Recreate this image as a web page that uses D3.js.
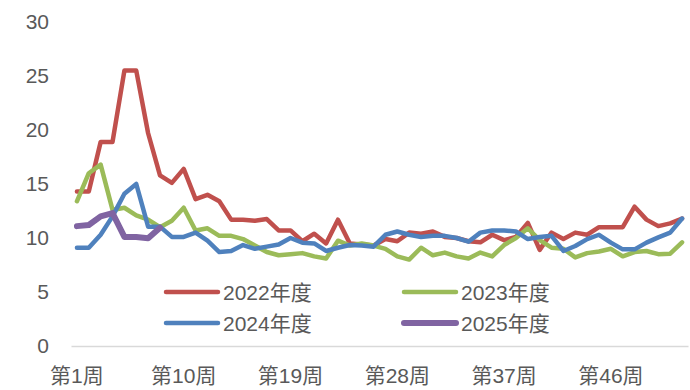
<!DOCTYPE html>
<html>
<head>
<meta charset="utf-8">
<script src="https://cdn.jsdelivr.net/npm/d3@7/dist/d3.min.js"></script>
<style>
  html, body { margin: 0; padding: 0; background: #ffffff; }
  svg { display: block; }
  text { font-family: "Liberation Sans", "Noto Sans CJK SC", sans-serif; fill: #595959; }
</style>
</head>
<body>
<svg id="chart" width="690" height="390"></svg>
<script>
// Weekly values by season (weeks 1–52)
const weeks = d3.range(1, 53).map(w => "第" + w + "周");
const weekTicks = ["第1周", "第10周", "第19周", "第28周", "第37周", "第46周"];
const yTicks = [0, 5, 10, 15, 20, 25, 30];

const seriesNames = ["2022年度", "2023年度", "2024年度", "2025年度"];
const seriesColors = ["#C0504D", "#9BBB59", "#4F81BD", "#8064A2"];
const seriesWidths = [4.5, 4.5, 4.5, 6];

const s2022 = [14.3, 14.3, 18.9, 18.9, 25.5, 25.5, 19.7, 15.8, 15.1, 16.4,
  13.6, 14.0, 13.4, 11.7, 11.7, 11.6, 11.75, 10.7, 10.7, 9.7,
  10.4, 9.5, 11.7, 9.5, 9.4, 9.3, 9.9, 9.7, 10.5, 10.4,
  10.6, 10.1, 10.0, 9.7, 9.6, 10.3, 9.8, 10.1, 11.4, 8.9,
  10.5, 9.9, 10.5, 10.3, 11.0, 11.0, 11.0, 12.9, 11.7, 11.1,
  11.35, 11.8];
const s2023 = [13.4, 16.0, 16.8, 12.6, 12.8, 12.1, 11.7, 11.0, 11.6, 12.8,
  10.7, 10.9, 10.2, 10.2, 9.9, 9.3, 8.7, 8.4, 8.5, 8.6,
  8.3, 8.1, 9.75, 9.3, 9.5, 9.3, 9.0, 8.3, 8.0, 9.1,
  8.4, 8.65, 8.3, 8.1, 8.65, 8.3, 9.35, 10.0, 10.9, 9.8,
  9.1, 9.0, 8.2, 8.6, 8.75, 9.0, 8.3, 8.7, 8.8, 8.5,
  8.55, 9.6];
const s2024 = [9.1, 9.1, 10.3, 12.0, 14.1, 15.0, 11.05, 11.05, 10.1, 10.1,
  10.5, 9.75, 8.7, 8.8, 9.35, 9.0, 9.2, 9.4, 10.0, 9.57,
  9.5, 8.8, 9.1, 9.35, 9.3, 9.2, 10.3, 10.6, 10.3, 10.1,
  10.2, 10.2, 10.0, 9.66, 10.5, 10.7, 10.7, 10.6, 9.9, 10.1,
  10.2, 8.8, 9.26, 9.9, 10.3, 9.57, 8.95, 8.95, 9.57, 10.06,
  10.5, 11.8];
const s2025 = [11.1, 11.2, 12.0, 12.3, 10.1, 10.1, 9.97, 10.95];

const allSeries = [s2022, s2023, s2024, s2025];

const svg = d3.select("#chart");

const x = d3.scaleBand().domain(weeks).range([71, 688]);
const y = d3.scaleLinear().domain([0, 30]).range([346, 22]);
const cx = w => x(w) + x.bandwidth() / 2;

// Y axis labels (no axis line)
const yAxis = svg.append("g")
  .attr("transform", "translate(49,0)")
  .call(d3.axisLeft(y).tickValues(yTicks).tickSize(0).tickPadding(0));
yAxis.select(".domain").remove();
yAxis.selectAll("text")
  .style("font-size", "21px")
  .style("fill", "#595959")
  .style("font-family", "'Liberation Sans', 'Noto Sans CJK SC', sans-serif");

// X axis with a light baseline
const xAxis = svg.append("g")
  .attr("transform", "translate(0,346)")
  .call(d3.axisBottom(x).tickValues(weekTicks).tickSize(0).tickPadding(22));
xAxis.select(".domain").attr("stroke", "#d9d9d9").attr("stroke-width", 1.5);
xAxis.selectAll("text")
  .style("font-size", "21px")
  .style("fill", "#595959")
  .style("font-family", "'Liberation Sans', 'Noto Sans CJK SC', sans-serif");

// Season lines
const line = d3.line()
  .x((d, i) => cx(weeks[i]))
  .y(d => y(d));

allSeries.forEach((s, k) => {
  svg.append("path")
    .datum(s)
    .attr("fill", "none")
    .attr("stroke", seriesColors[k])
    .attr("stroke-width", seriesWidths[k])
    .attr("stroke-linejoin", "round")
    .attr("stroke-linecap", "round")
    .attr("d", line);
});

// Legend (2 x 2)
const legendPos = [
  { lx: 166, ly: 292 }, { lx: 404, ly: 292 },
  { lx: 166, ly: 323 }, { lx: 404, ly: 323 }
];
seriesNames.forEach((name, k) => {
  const p = legendPos[k];
  const g = svg.append("g");
  g.append("line")
    .attr("x1", p.lx).attr("x2", p.lx + 52)
    .attr("y1", p.ly).attr("y2", p.ly)
    .attr("stroke", seriesColors[k])
    .attr("stroke-width", seriesWidths[k])
    .attr("stroke-linecap", "round");
  g.append("text")
    .attr("x", p.lx + 57)
    .attr("y", p.ly)
    .attr("dy", "0.36em")
    .style("font-size", "21px")
    .text(name);
});
</script>
</body>
</html>
